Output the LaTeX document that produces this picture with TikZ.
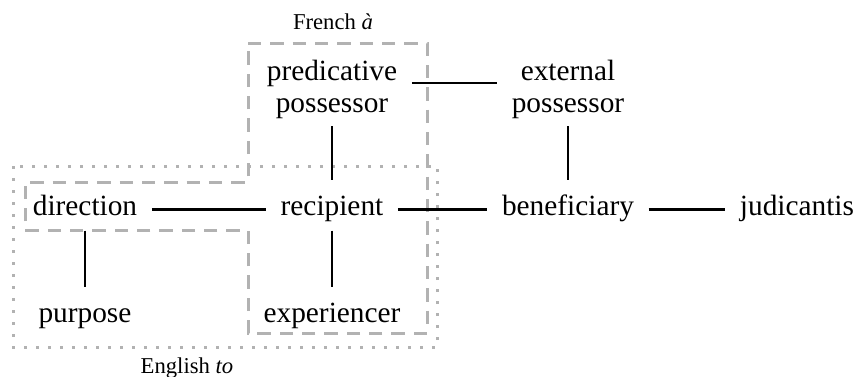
\documentclass[tikz,border=0pt]{standalone}
\usepackage{fontspec}
\setmainfont{Liberation Serif}
\usetikzlibrary{calc}

\begin{document}
\begin{tikzpicture}[x=0.75pt,y=0.75pt,yscale=-1,xscale=1,
  role/.style={inner sep=0pt, outer xsep=11pt, outer ysep=6pt, text height=15pt, text depth=5pt, font=\fontsize{22}{24}\selectfont},
  tworole/.style={inner sep=0pt, outer xsep=11pt, outer ysep=6pt, align=center, font=\fontsize{22}{24}\selectfont},
  link/.style={line width=2.2pt},
  down/.style={link, shorten >=6pt},
  lang/.style={font=\fontsize{17}{20}\selectfont, anchor=base, inner sep=0pt},
  french/.style={draw=black!30, line width=2.25pt, dash pattern=on 10pt off 6.75pt},
  english/.style={draw=black!30, line width=2.25pt, dash pattern=on 2.25pt off 6.75pt}]
\useasboundingbox (0,0) rectangle (858,376);

%Dotted region [English to]
\draw [english] (13,166) rectangle (437,347) ;
%Dashed region [French a]
\draw [french] (248,43) -- (427,43) -- (427,333) -- (248,333) -- (248,230) -- (25,230) -- (25,182) -- (248,182) -- cycle ;

% Text Node
\node (french) at (333,29) [lang] {French \emph{à}};
% Text Node
\node (english) at (187,373) [lang] {English \emph{to}};

% Text Node
\node (pred) at (332,89) [tworole] {predicative\\possessor};
% Text Node
\node (extposs) at (568,89) [tworole] {external\\possessor};
% Text Node
\node (direction) at (85,209.3) [role] {direction};
% Text Node
\node (recip) at (332,209.3) [role] {recipient};
% Text Node
\node (benef) at (568,209.3) [role] {beneficiary};
% Text Node
\node (judic) at (797,209.3) [role] {judicantis};
% Text Node
\node (purpose) at (85,316.3) [role] {purpose};
% Text Node
\node (exper) at (332,316.3) [role] {experiencer};

%Straight Lines
\draw [link] ($(pred.east)+(0,-6)$) -- ($(extposs.west)+(0,-6)$) ;
\draw [down] (pred) -- (recip) ;
\draw [down] (extposs) -- (benef) ;
\draw [link] (direction) -- (recip) ;
\draw [link] (recip) -- (benef) ;
\draw [link] (benef) -- (judic) ;
\draw [down] (direction) -- (purpose) ;
\draw [down] (recip) -- (exper) ;

\end{tikzpicture}
\end{document}
